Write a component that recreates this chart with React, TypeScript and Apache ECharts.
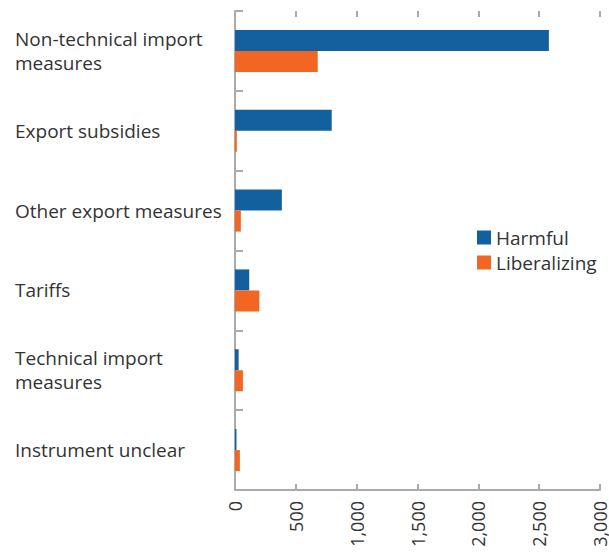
import React, { useEffect, useRef } from "react";
import * as echarts from "echarts";

const categories = [
  "Non-technical import\nmeasures",
  "Export subsidies",
  "Other export measures",
  "Tariffs",
  "Technical import\nmeasures",
  "Instrument unclear",
];
const harmful = [2580, 795, 385, 117, 30, 12];
const liberalizing = [680, 15, 48, 200, 65, 40];
const seriesNames = ["Harmful", "Liberalizing"];
const xMax = 3000;
const xInterval = 500;

export default function App() {
  const ref = useRef<HTMLDivElement>(null);
  useEffect(() => {
    if (!ref.current) return;
    const chart = echarts.init(ref.current, null, { renderer: "svg" });
    const font = "Open Sans";
    const axisGrey = "#aaaaaa";
    chart.setOption({
      animation: false,
      textStyle: { fontFamily: font },
      legend: {
        orient: "vertical",
        left: 477,
        top: 228,
        padding: 0,
        itemWidth: 14,
        itemHeight: 14,
        itemGap: 6,
        icon: "rect",
        textStyle: { fontSize: 19, color: "#333", fontFamily: font, padding: [0, 0, 0, 0] },
        data: seriesNames,
      },
      grid: { left: 235, right: 8, top: 11, bottom: 64, containLabel: false },
      xAxis: [
        {
          type: "value",
          min: 0,
          max: xMax,
          interval: xInterval,
          position: "bottom",
          axisLine: { show: true, lineStyle: { color: axisGrey, width: 2 } },
          axisTick: { show: true, inside: true, length: 6, lineStyle: { color: axisGrey, width: 2 } },
          splitLine: { show: false },
          axisLabel: {
            rotate: 90,
            fontSize: 18,
            color: "#333",
            fontFamily: font,
            margin: 11,
            formatter: (v: number) => v.toLocaleString("en-US"),
          },
        },
        {
          type: "value",
          min: 0,
          max: xMax,
          interval: xInterval,
          position: "top",
          axisLine: { show: false },
          axisTick: { show: true, inside: true, length: 6, lineStyle: { color: axisGrey, width: 2 } },
          splitLine: { show: false },
          axisLabel: { show: false },
        },
      ],
      yAxis: {
        type: "category",
        inverse: true,
        data: categories,
        axisLine: { show: true, lineStyle: { color: axisGrey, width: 2 } },
        axisTick: { show: true, inside: true, length: 8, lineStyle: { color: axisGrey, width: 2 } },
        axisLabel: {
          align: "left",
          margin: 220,
          fontSize: 19,
          lineHeight: 24,
          color: "#333",
          fontFamily: font,
        },
      },
      series: [
        {
          name: seriesNames[0],
          type: "bar",
          data: harmful,
          barWidth: 21,
          barGap: "0%",
          itemStyle: { color: "#13609E" },
        },
        {
          name: seriesNames[1],
          type: "bar",
          data: liberalizing,
          barWidth: 21,
          barGap: "0%",
          itemStyle: { color: "#F26522" },
        },
      ],
    });
    return () => chart.dispose();
  }, []);
  return <div ref={ref} style={{ width: 609, height: 554, position: "absolute", left: 0, top: 0 }} />;
}
